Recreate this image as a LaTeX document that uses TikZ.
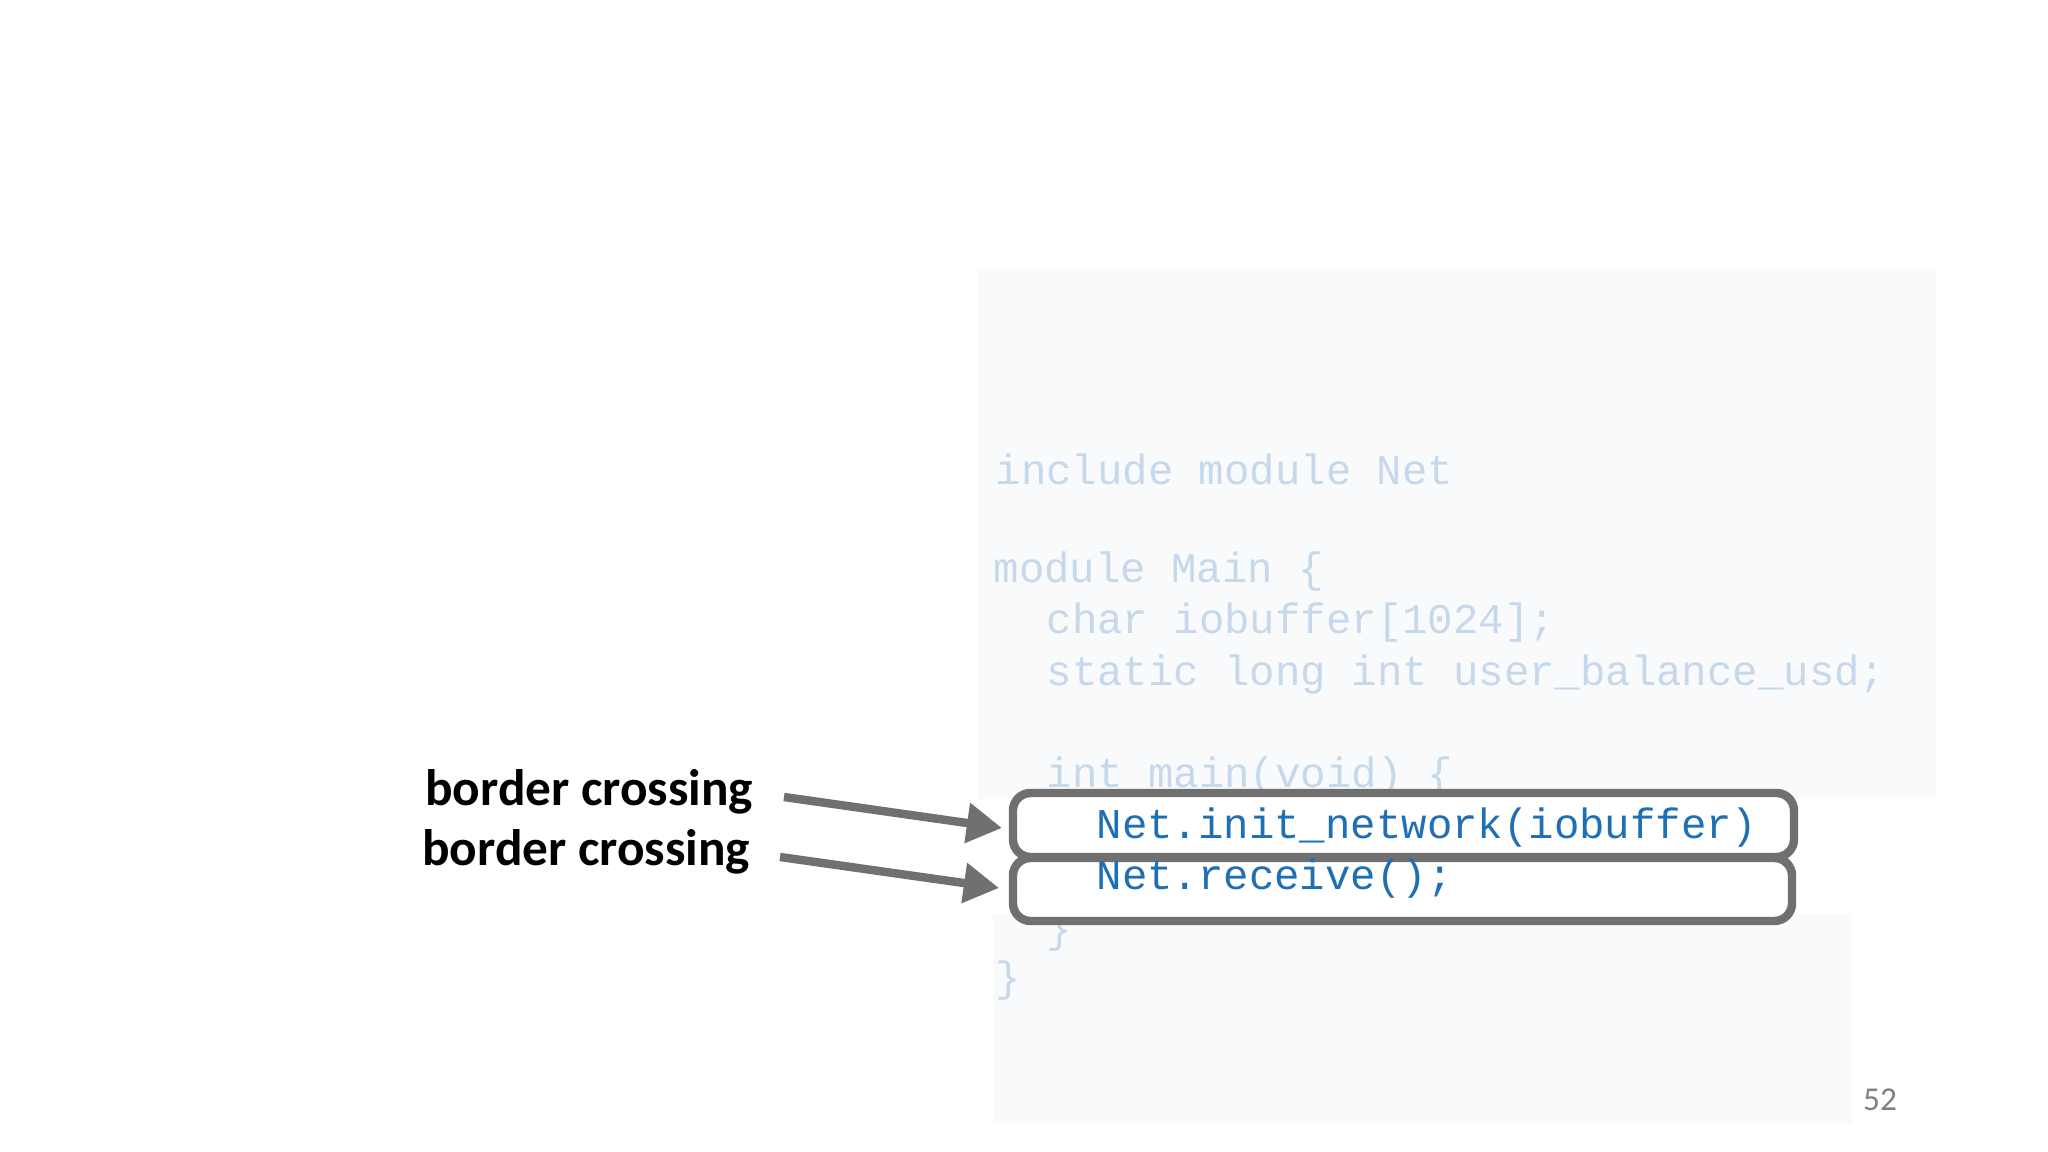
\documentclass[tikz,border=0pt]{standalone}
\usepackage{fontspec}
\setmainfont{Carlito}
\newfontfamily\codefont{Liberation Mono}
\usetikzlibrary{arrows.meta}
\definecolor{faint}{HTML}{C6D8EC}
\definecolor{codeblue}{HTML}{1F6FB5}
\definecolor{boxgray}{HTML}{707070}
\definecolor{panel}{HTML}{F9FAFB}
\tikzset{
 code/.style={anchor=west,inner sep=0pt,font=\codefont\fontsize{12.05pt}{14pt}\selectfont,text=faint},
 hot/.style={code,text=codeblue},
 hbox/.style={draw=boxgray,line width=2.4pt,rounded corners=5pt},
 lbl/.style={anchor=east,inner sep=0pt,font=\bfseries\fontsize{14.6pt}{17pt}\selectfont},
 arr/.style={draw=boxgray,line width=2.4pt,-{Triangle[length=10pt,width=11pt]}}
}
\begin{document}
\begin{tikzpicture}[x=1cm,y=1cm]
\useasboundingbox (0,0) rectangle (20.48,11.52);
\fill[panel] (9.77,3.53) rectangle (19.36,8.84);
\fill[panel] (9.93,0.29) rectangle (18.52,2.38);
\node[code] (l1) at (9.95,6.83) {include module Net};
\node[code] (l2) at (9.93,5.80) {module Main \{};
\node[code] (l3) at (10.46,5.29) {char iobuffer[1024];};
\node[code] (l4) at (10.46,4.77) {static long int user\_balance\_usd;};
\node[code] (l5) at (10.46,3.75) {int main(void) \{};
\node[code] (l8) at (10.46,2.20) {\}};
\node[code] (l9) at (9.95,1.71) {\}};
\draw[hbox,fill=white] (10.13,2.95) rectangle (17.94,3.59);
\draw[hbox,fill=white] (10.13,2.31) rectangle (17.92,2.94);
\node[hot] (l6) at (10.96,3.24) {Net.init\_network(iobuffer)};
\node[hot] (l7) at (10.96,2.73) {Net.receive();};
\coordinate (t1) at (10.02,3.24);
\coordinate (t2) at (9.99,2.64);
\node[lbl] (b1) at (7.54,3.60) {border crossing};
\node[lbl] (b2) at (7.51,3.00) {border crossing};
\draw[arr] (7.84,3.55) -- (t1);
\draw[arr] (7.80,2.95) -- (t2);
\node[font=\fontsize{9.5pt}{11pt}\selectfont,text=gray] (pg) at (18.80,0.52) {52};
\end{tikzpicture}
\end{document}
